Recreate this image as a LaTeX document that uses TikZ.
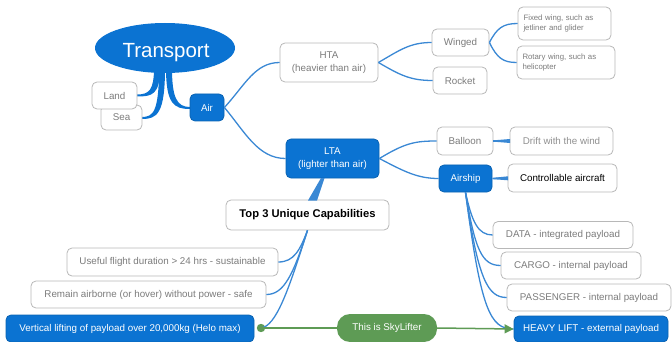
\documentclass[tikz,border=0pt]{standalone}
\usepackage{fontspec}
\setmainfont{Liberation Sans}
\usetikzlibrary{arrows.meta,shapes.geometric}
\definecolor{mmblue}{HTML}{0B73D2}
\definecolor{lnblue}{HTML}{3A88D4}
\definecolor{bgray}{HTML}{B8B8B8}
\definecolor{tgray}{HTML}{7C7C7C}
\definecolor{mmgreen}{HTML}{5E9B55}
\begin{document}
\begin{tikzpicture}[x=1pt,y=-1pt,
  box/.style={draw=bgray, line width=0.8pt, rounded corners=5pt, fill=white,
    text=tgray, font=\fontsize{9.8}{12.5}\selectfont, align=center, inner sep=0pt},
  bluebox/.style={box, draw=mmblue!85!black, fill=mmblue, text=white},
  smallbox/.style={box, font=\fontsize{7.8}{9.3}\selectfont, align=left},
  link/.style={draw=lnblue, line width=1.3pt},
  glink/.style={draw=mmgreen, line width=1.5pt}]
\useasboundingbox (0,0) rectangle (672,342);
% tapered links from Transport
\fill[mmblue] (154,68) .. controls (154,90) and (149,94.5) .. (137,94.5) -- (137,96.5) .. controls (152,96.5) and (160,95) .. (160,68) -- cycle;
\fill[mmblue] (159,68) .. controls (159,112) and (153,117) .. (142,117) -- (142,119) .. controls (157,119) and (165,114) .. (165,68) -- cycle;
\fill[mmblue] (166,68) .. controls (166,104) and (174,109) .. (190,109) -- (190,107) .. controls (177,107) and (172,98) .. (172,68) -- cycle;
% nodes
\node[ellipse, fill=mmblue, minimum width=140pt, minimum height=50pt, inner sep=0pt] (transport) at (165,48) {};
\node[text=white, font=\fontsize{20.5}{24}\selectfont, text depth=0pt, inner sep=0pt] (transportlabel) at (166,50) {Transport};
\node[box, minimum width=41pt, minimum height=25pt] (sea) at (121.5,117.5) {Sea};
\node[box, minimum width=45pt, minimum height=27pt] (land) at (114.5,95.5) {Land};
\node[bluebox, minimum width=34pt, minimum height=27pt] (air) at (207,107.5) {Air};
\node[box, minimum width=98pt, minimum height=39pt] (hta) at (329,62.5) {HTA\\(heavier than air)};
\node[box, minimum width=57pt, minimum height=27pt] (winged) at (460.5,42.5) {Winged};
\node[box, minimum width=54pt, minimum height=27pt] (rocket) at (460,80.5) {Rocket};
\node[smallbox, minimum width=93pt, minimum height=33pt, text width=82pt] (fixed) at (564.5,23.5) {Fixed wing, such as\\jetliner and glider};
\node[smallbox, minimum width=98pt, minimum height=33pt, text width=87pt] (rotary) at (566,62.5) {Rotary wing, such as\\helicopter};
\node[bluebox, minimum width=93pt, minimum height=39pt] (lta) at (332.5,158.5) {LTA\\(lighter than air)};
\node[box, minimum width=56pt, minimum height=28pt] (balloon) at (465,141) {Balloon};
\node[box, minimum width=103pt, minimum height=28pt, text=tgray!85] (drift) at (561.5,141) {Drift with the wind};
\node[bluebox, minimum width=53pt, minimum height=27pt] (airship) at (465.5,178.5) {Airship};
\node[box, minimum width=109pt, minimum height=28pt, text=black] (ctrl) at (562.5,178) {Controllable aircraft};
\node[box, minimum width=163pt, minimum height=30pt, text=black,
  font=\bfseries\fontsize{11.2}{13}\selectfont] (top) at (307.5,215) {Top 3 Unique Capabilities};
\node[box, minimum width=211pt, minimum height=28pt] (useful) at (172.5,262) {Useful flight duration > 24 hrs - sustainable};
\node[box, minimum width=235pt, minimum height=27pt] (remain) at (148.5,294.5) {Remain airborne (or hover) without power - safe};
\node[bluebox, minimum width=248pt, minimum height=27pt] (vert) at (130,328.5) {Vertical lifting of payload over 20,000kg (Helo max)};
\node[box, minimum width=140pt, minimum height=27pt] (data) at (563,235) {DATA - integrated payload};
\node[box, minimum width=140pt, minimum height=27pt] (cargo) at (571,265.5) {CARGO - internal payload};
\node[box, minimum width=164pt, minimum height=27pt] (pass) at (589,297.5) {PASSENGER - internal payload};
\node[bluebox, minimum width=154pt, minimum height=26pt] (heavy) at (591,329) {HEAVY LIFT - external payload};
\node[fill=mmgreen, text=white, rounded corners=13pt, minimum width=100pt, minimum height=28pt,
  inner sep=0pt, font=\fontsize{9.8}{12}\selectfont] (sky) at (387,328) {This is SkyLifter};
\fill[mmgreen] (261,328) circle (4.2) coordinate (dot);
% links
\draw[link] (air.east) .. controls (245,85) and (255,62.5) .. (hta.west);
\draw[link] (air.east) .. controls (245,132) and (258,158.5) .. (lta.west);
\draw[link] (hta.east) .. controls (400,50) and (410,42.5) .. (winged.west);
\draw[link] (hta.east) .. controls (400,75) and (410,80.5) .. (rocket.west);
\draw[link] (winged.east) .. controls (497,28) and (503,23.5) .. (fixed.west);
\draw[link] (winged.east) .. controls (497,58) and (503,62.5) .. (rotary.west);
\draw[link] (lta.east) .. controls (405,143) and (415,141) .. (balloon.west);
\draw[link] (lta.east) .. controls (405,172) and (418,178.5) .. (airship.west);
\draw[link] (balloon.east) -- (drift.west);
\fill[lnblue] (494,140.3) -- (510,139) -- (510,143) -- (494,141.7) -- cycle;
\draw[link] (airship.east) -- (ctrl.west);
\fill[lnblue] (493,177.8) -- (508,176.3) -- (508,180.3) -- (493,179.2) -- cycle;
\fill[lnblue] (321,178) -- (324.5,178) -- (317,200.5) -- (308,200.5) -- cycle;
\draw[link] (top.south) .. controls (300,250) and (294,262) .. (useful.east);
\draw[link] (top.south) .. controls (293,275) and (284,294.5) .. (remain.east);
\draw[link] (top.south) .. controls (288,292) and (276,326) .. (dot);
\draw[link] (airship.south) .. controls (472,222) and (478,235) .. (data.west);
\draw[link] (airship.south) .. controls (475,250) and (482,265.5) .. (cargo.west);
\draw[link] (airship.south) .. controls (478,280) and (488,297.5) .. (pass.west);
\draw[link] (airship.south) .. controls (481,310) and (490,329) .. (heavy.west);
\draw[glink] (dot) -- (sky.west);
\draw[glink, -{Triangle[length=9pt,width=9pt]}] (sky.east) -- (heavy.west);
\end{tikzpicture}
\end{document}
